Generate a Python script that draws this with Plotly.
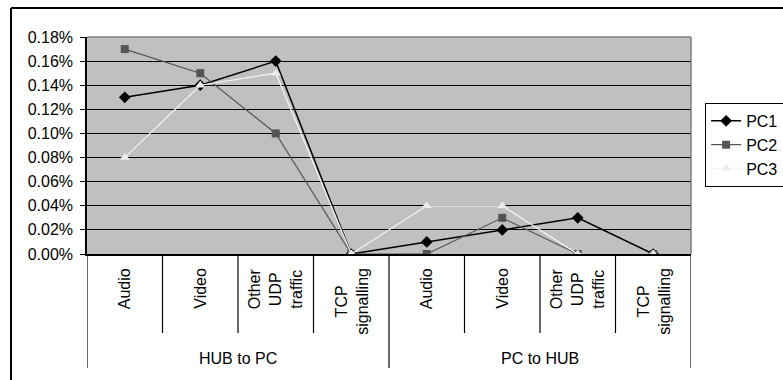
import plotly.graph_objects as go

# Traffic direction groups and the traffic types within each group
groups = ["HUB to PC", "PC to HUB"]
traffic_types = ["Audio", "Video", "Other<br>UDP<br>traffic", "TCP<br>signalling"]

# Loss rate per PC (fraction), ordered HUB to PC then PC to HUB
pc1 = [0.0013, 0.0014, 0.0016, 0.0, 0.0001, 0.0002, 0.0003, 0.0]
pc2 = [0.0017, 0.0015, 0.0010, 0.0, 0.0, 0.0003, 0.0, 0.0]
pc3 = [0.0008, 0.0014, 0.0015, 0.0, 0.0004, 0.0004, 0.0, 0.0]

y_ticks = [0.0, 0.0002, 0.0004, 0.0006, 0.0008, 0.0010, 0.0012, 0.0014, 0.0016, 0.0018]

FONT = "Arial, Liberation Sans, sans-serif"
FS = 16

n_types = len(traffic_types)
n_cats = len(groups) * n_types
x_pos = [i + 0.5 for i in range(n_cats)]

fig = go.Figure()
fig.add_trace(go.Scatter(
    x=x_pos, y=pc1, name="PC1", mode="lines+markers",
    line=dict(color="#000000", width=1.5),
    marker=dict(symbol="diamond", size=9, color="#000000"),
))
fig.add_trace(go.Scatter(
    x=x_pos, y=pc2, name="PC2", mode="lines+markers",
    line=dict(color="#555555", width=1.2),
    marker=dict(symbol="square", size=8, color="#555555"),
))
fig.add_trace(go.Scatter(
    x=x_pos, y=pc3, name="PC3", mode="lines+markers",
    line=dict(color="#f4f4f4", width=1.2),
    marker=dict(symbol="triangle-up", size=9, color="#ececec"),
))

shapes = []
annotations = []

# Category divider lines below the axis
cat_drop = -0.364
group_drop = -0.525
for k in range(n_cats + 1):
    is_group_edge = k % n_types == 0
    shapes.append(dict(
        type="line", xref="x", yref="paper", x0=k, x1=k, y0=0,
        y1=group_drop if is_group_edge else cat_drop,
        line=dict(color="#000000", width=1.2),
    ))

# Rotated traffic-type labels and the group labels beneath them
for g in range(len(groups)):
    for t, name in enumerate(traffic_types):
        annotations.append(dict(
            x=g * n_types + t + 0.5, xref="x", y=0, yref="paper",
            yanchor="top", xanchor="center", yshift=-12,
            text=name, textangle=-90, showarrow=False, align="center",
            font=dict(family=FONT, size=FS, color="#000000"),
        ))
    annotations.append(dict(
        x=g * n_types + n_types / 2, xref="x", y=0, yref="paper",
        yanchor="middle", xanchor="center", yshift=-104,
        text=groups[g], showarrow=False,
        font=dict(family=FONT, size=FS, color="#000000"),
    ))

# Gray top and right edges of the plot area
shapes.append(dict(type="line", xref="paper", yref="paper", x0=0, x1=1, y0=1, y1=1,
                   line=dict(color="#808080", width=1.5)))
shapes.append(dict(type="line", xref="paper", yref="paper", x0=1, x1=1, y0=0, y1=1,
                   line=dict(color="#808080", width=1.5)))

# Outer chart frame (top and left edges)
shapes.append(dict(type="line", xref="paper", yref="paper", x0=-0.1258, x1=1.2, y0=1.1336, y1=1.1336,
                   line=dict(color="#000000", width=2)))
shapes.append(dict(type="line", xref="paper", yref="paper", x0=-0.1258, x1=-0.1258, y0=1.1336, y1=-0.7,
                   line=dict(color="#000000", width=2)))

fig.update_layout(
    width=783, height=380,
    margin=dict(l=87, r=92, t=37, b=126, autoexpand=False),
    paper_bgcolor="#ffffff",
    plot_bgcolor="#c0c0c0",
    font=dict(family=FONT, size=FS, color="#000000"),
    shapes=shapes,
    annotations=annotations,
    showlegend=True,
    legend=dict(
        x=1.1542, y=0.696, xanchor="right", yanchor="top",
        bgcolor="#ffffff", bordercolor="#000000", borderwidth=1,
        font=dict(family=FONT, size=FS, color="#000000"),
        tracegroupgap=0, itemwidth=30,
    ),
    xaxis=dict(
        range=[0, n_cats], showticklabels=False, ticks="", showgrid=False,
        zeroline=False, showline=True, linecolor="#000000", linewidth=1.5,
        fixedrange=True,
    ),
    yaxis=dict(
        range=[0, 0.0018], tickvals=y_ticks, tickformat=".2%",
        showgrid=True, gridcolor="#000000", gridwidth=1.2,
        zeroline=False, showline=True, linecolor="#000000", linewidth=1.5,
        ticks="outside", ticklen=5, tickcolor="#000000", tickwidth=1.2,
        ticklabelstandoff=4,
        fixedrange=True,
    ),
)

fig.write_html("out.html")
